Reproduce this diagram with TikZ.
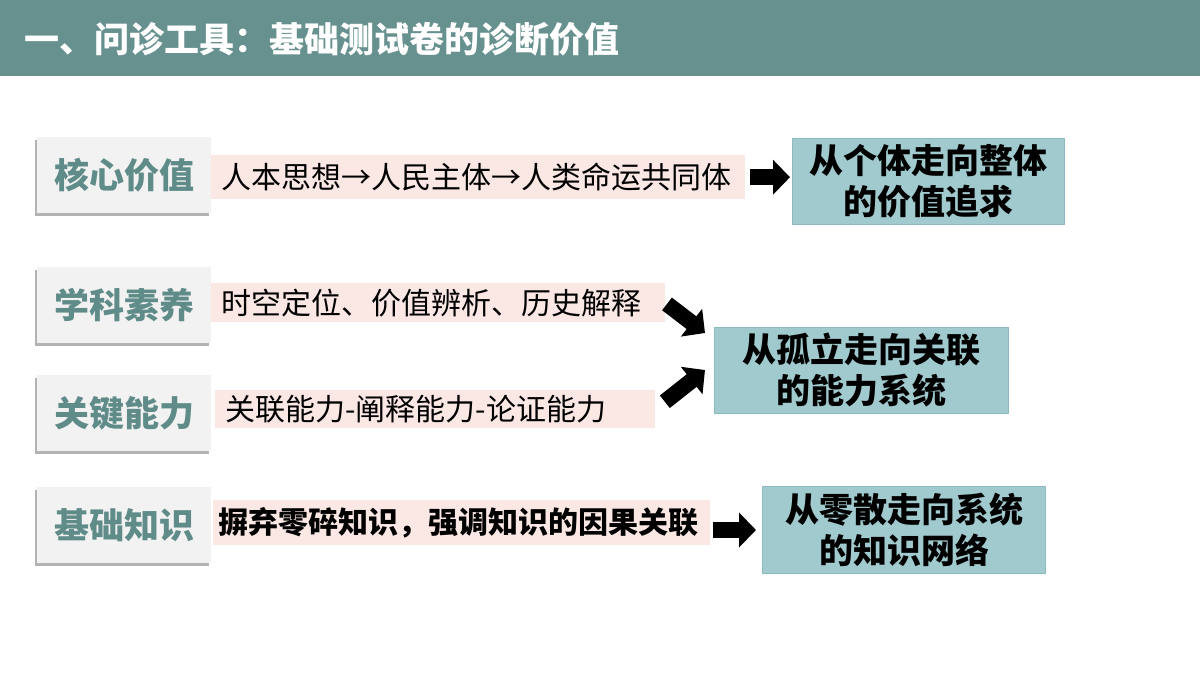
\documentclass[tikz,border=0pt]{standalone}
\usepackage{fontspec}
\setmainfont{Noto Sans CJK SC}
\usetikzlibrary{arrows.meta,shadows}

\definecolor{headbg}{HTML}{67918F}
\definecolor{keybg}{HTML}{F2F2F2}
\definecolor{keytx}{HTML}{5F8B88}
\definecolor{notebg}{HTML}{FBE8E5}
\definecolor{goalbg}{HTML}{A0CACE}
\definecolor{goalln}{HTML}{8CBCC1}

\begin{document}
\begin{tikzpicture}[x=1pt,y=-1pt,
	keybox/.style={anchor=north west,fill=keybg,inner sep=0pt,
		minimum width=174pt,minimum height=76pt,text=keytx,
		font=\fontsize{35}{37}\selectfont\bfseries,
		drop shadow={shadow xshift=-2pt,shadow yshift=-3pt,fill=black!50,opacity=0.6}},
	notebox/.style 2 args={anchor=north west,fill=notebg,inner xsep=10pt,inner ysep=0pt,
		text width=#1,minimum height=#2,align=left,
		font=\fontsize{30}{32}\selectfont},
	goalbox/.style={anchor=north west,fill=goalbg,draw=goalln,line width=1pt,
		inner sep=0pt,minimum width=#1,minimum height=86pt,align=center,
		font=\fontsize{34}{41}\selectfont\bfseries},
	blockarrow/.style={line width=16pt,-{Triangle[length=17pt,width=34pt]}}]
		\useasboundingbox (0,0) rectangle (1200,675);
%		\draw[step=50,help lines] (0,0) grid (1200,675);
		\fill[headbg] (0,0) rectangle (1200,76);
		\path (21,39) coordinate (titlepos);
		\path (37,137) coordinate (key1pos);
		\path (37,267) coordinate (key2pos);
		\path (37,375) coordinate (key3pos);
		\path (37,487) coordinate (key4pos);
		\path (211,155) coordinate (note1pos);
		\path (211,283) coordinate (note2pos);
		\path (215,390) coordinate (note3pos);
		\path (213,500) coordinate (note4pos);
		\path (792,138) coordinate (goal1pos);
		\path (714,327) coordinate (goal2pos);
		\path (762,486) coordinate (goal3pos);
		\path (705,333) coordinate (tip2);
		\path (705,370) coordinate (tip3);

		\node[anchor=west,text=white,font=\fontsize{35}{37}\selectfont\bfseries] (title) at (titlepos)
			{一、问诊工具：基础测试卷的诊断价值};

		\node[keybox] (key1) at (key1pos) {核心价值};
		\node[keybox] (key2) at (key2pos) {学科素养};
		\node[keybox] (key3) at (key3pos) {关键能力};
		\node[keybox] (key4) at (key4pos) {基础知识};

		\node[notebox={514pt}{44pt}] (note1) at (note1pos) {人本思想→人民主体→人类命运共同体};
		\node[notebox={434pt}{39pt}] (note2) at (note2pos) {时空定位、价值辨析、历史解释};
		\node[notebox={420pt}{38pt}] (note3) at (note3pos) {关联能力-阐释能力-论证能力};
		\node[notebox={487pt}{45pt},inner xsep=5pt,font=\fontsize{30}{32}\selectfont\bfseries] (note4) at (note4pos)
			{摒弃零碎知识，强调知识的因果关联};

		\node[goalbox=272pt] (goal1) at (goal1pos) {从个体走向整体\\的价值追求};
		\node[goalbox=294pt] (goal2) at (goal2pos) {从孤立走向关联\\的能力系统};
		\node[goalbox=283pt,minimum height=87pt] (goal3) at (goal3pos) {从零散走向系统\\的知识网络};

		\draw[blockarrow,shorten <=5pt,shorten >=2pt] (note1.east) -- (note1.east -| goal1.west);
		\draw[blockarrow,shorten <=2pt] (note2.east) -- (tip2);
		\draw[blockarrow,shorten <=12pt] (note3.east) -- (tip3);
		\draw[blockarrow,shorten <=3pt,shorten >=6pt] (goal3.west -| note4.east) -- (goal3.west);
	\end{tikzpicture}
\end{document}
